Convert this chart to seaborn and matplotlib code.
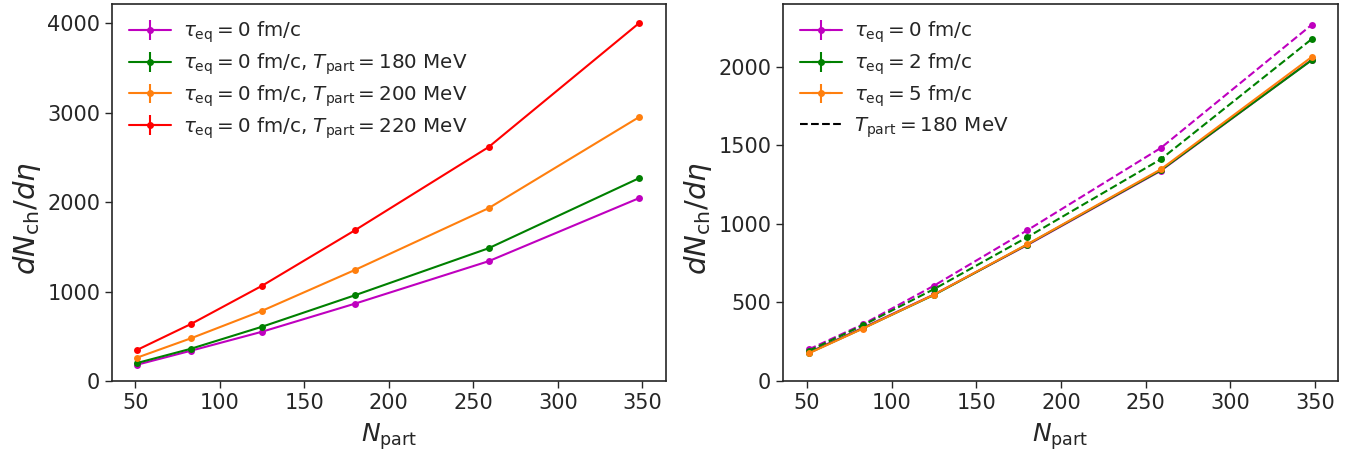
import numpy as np
import pandas as pd
import matplotlib
matplotlib.use("Agg")
import matplotlib.pyplot as plt
import seaborn as sns
from matplotlib.lines import Line2D

# Participant numbers (centrality classes)
n_part = [51, 83, 125, 180, 259, 348]

# Left panel: tau_eq = 0 fm/c with different particlization temperatures
dn_tau0 = [182, 339, 551, 865, 1339, 2044]
dn_tau0_t180 = [201, 361, 607, 959, 1484, 2267]
dn_tau0_t200 = [261, 478, 785, 1242, 1932, 2950]
dn_tau0_t220 = [347, 638, 1065, 1686, 2615, 4000]

# Right panel: different equilibration times, default and T_part = 180 MeV
dn_tau2 = [178, 335, 548, 868, 1342, 2042]
dn_tau2_t180 = [192, 355, 585, 915, 1412, 2176]
dn_tau5 = [176, 334, 550, 870, 1348, 2062]

left_labels = [
    r"$\tau_{\rm eq} = 0$ fm/c",
    r"$\tau_{\rm eq} = 0$ fm/c, $T_{\rm part} = 180$ MeV",
    r"$\tau_{\rm eq} = 0$ fm/c, $T_{\rm part} = 200$ MeV",
    r"$\tau_{\rm eq} = 0$ fm/c, $T_{\rm part} = 220$ MeV",
]
right_labels = [
    r"$\tau_{\rm eq} = 0$ fm/c",
    r"$\tau_{\rm eq} = 2$ fm/c",
    r"$\tau_{\rm eq} = 5$ fm/c",
    r"$T_{\rm part} = 180$ MeV",
]

MAG, GRN, ORG, RED = "#bf00bf", "#008000", "#ff7f0e", "#ff0000"

sns.set_theme(style="ticks")
plt.rcParams["font.family"] = ["DejaVu Sans"]
plt.rcParams["mathtext.fontset"] = "dejavusans"

W, H = 1353, 455
fig = plt.figure(figsize=(W / 100, H / 100), dpi=100)
ax1 = fig.add_axes([112 / W, 74 / H, 554 / W, 377 / H])
ax2 = fig.add_axes([783 / W, 74 / H, 555 / W, 377 / H])


def draw(ax, y, color, ls="-", z=2):
    df = pd.DataFrame({"N": n_part, "y": y})
    sns.lineplot(data=df, x="N", y="y", ax=ax, color=color, linestyle=ls,
                 marker="o", markersize=5, markeredgewidth=0, linewidth=1.5,
                 zorder=z, legend=False)


def proxy(ax, color, label):
    return ax.errorbar([np.nan], [np.nan], xerr=[1], yerr=[1], fmt="o-",
                       color=color, markersize=4, linewidth=1.5, label=label)


legend_kw = dict(loc="upper left", bbox_to_anchor=(0.017, 0.980), frameon=False,
                 fontsize=14.3, handlelength=2.12, handletextpad=0.6,
                 borderaxespad=0.0, labelspacing=0.32)

# Left panel
for y, c in zip([dn_tau0, dn_tau0_t180, dn_tau0_t200, dn_tau0_t220],
                [MAG, GRN, ORG, RED]):
    draw(ax1, y, c)
h1 = [proxy(ax1, c, l) for c, l in zip([MAG, GRN, ORG, RED], left_labels)]
ax1.legend(handles=h1, **legend_kw)
ax1.set_xlim(36.2, 364)
ax1.set_ylim(0, 4215)
ax1.set_yticks([0, 1000, 2000, 3000, 4000])

# Right panel
draw(ax2, dn_tau0, MAG, "-", 2)
draw(ax2, dn_tau0_t180, MAG, "--", 2)
draw(ax2, dn_tau2, GRN, "-", 3)
draw(ax2, dn_tau2_t180, GRN, "--", 3)
draw(ax2, dn_tau5, ORG, "-", 4)
h2 = [proxy(ax2, c, l) for c, l in zip([MAG, GRN, ORG], right_labels[:3])]
h2.append(Line2D([], [], color="black", linestyle="--", linewidth=1.5,
                 label=right_labels[3]))
ax2.legend(handles=h2, **legend_kw)
ax2.set_xlim(35.8, 363.6)
ax2.set_ylim(0, 2400)
ax2.set_yticks([0, 500, 1000, 1500, 2000])

for ax in (ax1, ax2):
    ax.set_xticks([50, 100, 150, 200, 250, 300, 350])
    ax.tick_params(labelsize=15, length=5, width=1)
    ax.set_xlabel(r"$N_{\rm part}$", fontsize=18, labelpad=6)
    ax.set_ylabel(r"$dN_{\rm ch}/d\eta$", fontsize=21, labelpad=6)
    ax.yaxis.set_label_coords(-0.124, 0.43)
    for s in ax.spines.values():
        s.set_linewidth(1.2)

fig.savefig("out.png", dpi=100)
